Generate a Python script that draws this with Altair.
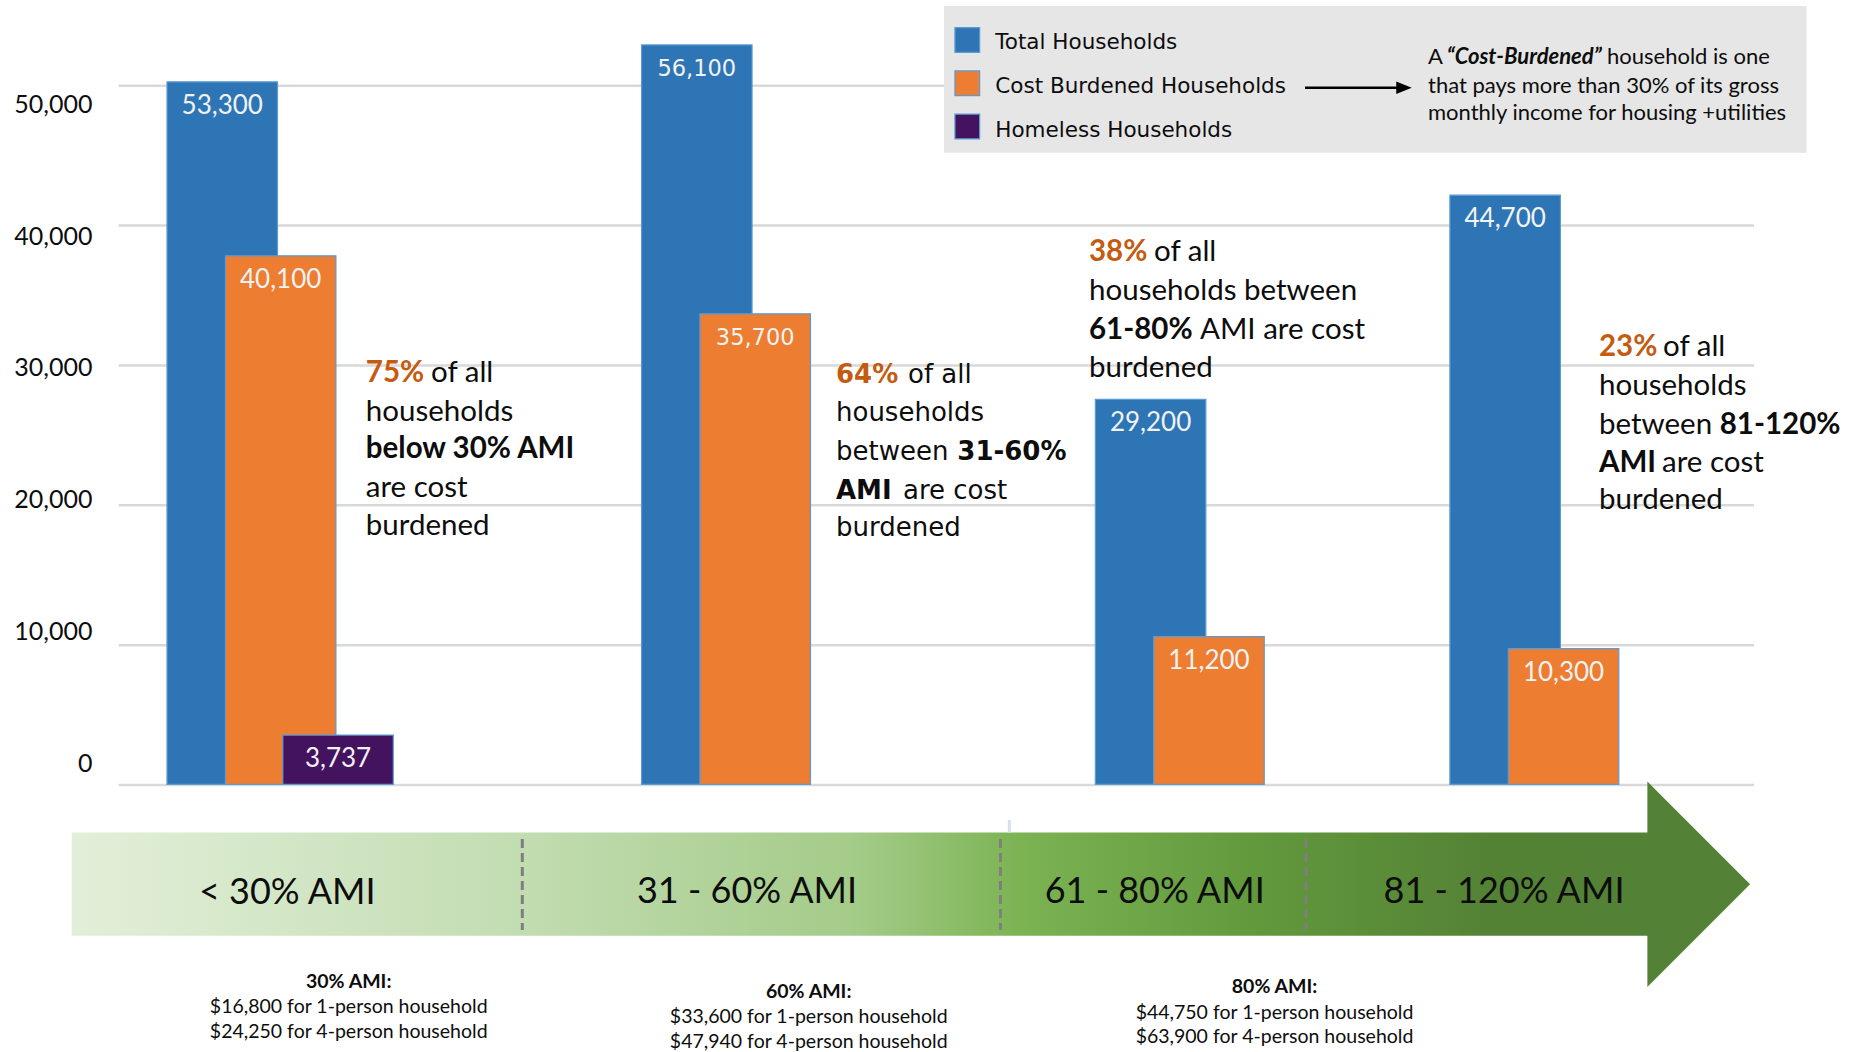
import altair as alt
import pandas as pd

# ---------------- data ----------------
groups = ["< 30% AMI", "31 - 60% AMI", "61 - 80% AMI", "81 - 120% AMI"]
series = ["Total Households", "Cost Burdened Households", "Homeless Households"]
total_households = [53300, 56100, 29200, 44700]
cost_burdened = [40100, 35700, 11200, 10300]
homeless = [3737]  # reported only for the < 30% AMI group
y_ticks = [0, 10000, 20000, 30000, 40000, 50000]
pct_burdened = ["75%", "64%", "38%", "23%"]
ami_levels = ["30% AMI:", "60% AMI:", "80% AMI:"]
one_person = ["$16,800", "$33,600", "$44,750"]
four_person = ["$24,250", "$47,940", "$63,900"]
colors = ["#2E75B6", "#ED7D31", "#44135F"]

rows = []
for gi, g in enumerate(groups):
    rows.append({"group": g, "gi": gi, "series": series[0], "value": total_households[gi]})
    rows.append({"group": g, "gi": gi, "series": series[1], "value": cost_burdened[gi]})
    if gi < len(homeless):
        rows.append({"group": g, "gi": gi, "series": series[2], "value": homeless[gi]})
df = pd.DataFrame(rows)
grid_df = pd.DataFrame({"v": y_ticks})
legend_df = pd.DataFrame({"series": series})
blank = pd.DataFrame({"k": [0]})

# ---------------- layout ----------------
W, H = 1853, 1052
CAL = "Lato"
CG = "DejaVu Sans"
ORANGE_TXT = "#C55A11"
BLACK = "#0D0D0D"

blue_centers = [216.7, 696.8, 1150.6, 1509.3]
OFF_ORANGE = 58.4
OFF_PURPLE = 115.8
BAR_W = 110.5

# bar value scale: zero at y=784.3, 13.18 px per 1000
bar_dom = [-20311, 59507]
# gridline scale: zero at y=785, 13.986 px per 1000
grid_dom = [-19091, 56128]

xs = alt.X("gi:Q", scale=alt.Scale(domain=[0, 1, 2, 3], range=blue_centers, nice=False, zero=False), axis=None)
ysc = alt.Scale(domain=bar_dom, nice=False, zero=False)
color = alt.Color("series:N", scale=alt.Scale(domain=series, range=colors), legend=None)


def txt(text, x, y, size, font=CAL, weight="normal", color=BLACK, align="left", style="normal"):
    return alt.Chart(blank).mark_text(
        text=text, font=font, fontSize=size, fontWeight=weight, fontStyle=style,
        color=color, align=align, baseline="middle"
    ).encode(x=alt.value(x), y=alt.value(y))


layers = []

# gridlines
layers.append(
    alt.Chart(grid_df).mark_rule(color="#D9D9D9", strokeWidth=2.5).encode(
        y=alt.Y("v:Q", scale=alt.Scale(domain=grid_dom, nice=False, zero=False), axis=None),
        x=alt.value(118.6), x2=alt.value(1754)
    )
)

# legend box
layers.append(
    alt.Chart(blank).mark_rect(color="#E6E6E6").encode(
        x=alt.value(944), x2=alt.value(1806.6), y=alt.value(6), y2=alt.value(152.7)
    )
)

y_axis = alt.Axis(values=y_ticks, format=",d", grid=False, domain=False, ticks=False,
                  labelFont=CAL, labelFontSize=25, labelColor=BLACK, labelPadding=0,
                  offset=-92, labelOffset=-21, title=None)


def bars(s_idx, xoff, axis=None):
    return alt.Chart(df).transform_filter(alt.datum.series == series[s_idx]).mark_bar(
        width=BAR_W, xOffset=xoff, stroke="#5B9BD5", strokeWidth=1.2, opacity=1
    ).encode(
        x=xs,
        y=alt.Y("value:Q", scale=ysc, axis=axis),
        y2=alt.datum(0),
        color=color,
    )


layers.append(bars(0, 0, y_axis))
layers.append(bars(1, OFF_ORANGE))
layers.append(bars(2, OFF_PURPLE))


def labels(s_idx, xoff, wide):
    cond = (alt.datum.series == series[s_idx]) & ((alt.datum.gi == 1) if wide else (alt.datum.gi != 1))
    return alt.Chart(df).transform_filter(cond).mark_text(
        font=CG if wide else CAL, fontSize=22.5 if wide else 26, color="#F2F2F2",
        align="center", baseline="middle", xOffset=xoff, dy=24
    ).encode(
        x=xs,
        y=alt.Y("value:Q", scale=ysc, axis=None),
        text=alt.Text("value:Q", format=","),
    )


for s_idx, off in [(0, 0), (1, OFF_ORANGE), (2, OFF_PURPLE)]:
    layers.append(labels(s_idx, off, False))
    if s_idx < 2:
        layers.append(labels(s_idx, off, True))

# ---------------- annotations ----------------
FS = 29.5
# group 1
x0 = 365.8
layers += [
    txt(pct_burdened[0], x0, 372.7, FS, weight="bold", color=ORANGE_TXT),
    txt("of all", 431, 372.7, FS),
    txt("households", x0, 411.7, FS),
    txt("below 30% AMI", x0, 449, FS, weight="bold"),
    txt("are cost", x0, 488.3, FS),
    txt("burdened", x0, 525.7, FS),
]
# group 2 (wide font)
x0 = 836
FS2 = 26
layers += [
    txt(pct_burdened[1], x0, 375, FS2, font=CG, weight="bold", color=ORANGE_TXT),
    txt("of all", 908, 375, FS2, font=CG),
    txt("households", x0, 413, FS2, font=CG),
    txt("between", x0, 451.5, FS2, font=CG),
    txt("31-60%", 957.3, 451.5, FS2, font=CG, weight="bold"),
    txt("AMI", x0, 490.8, FS2, font=CG, weight="bold"),
    txt("are cost", 903, 490.8, FS2, font=CG),
    txt("burdened", x0, 528, FS2, font=CG),
]
# group 3
x0 = 1089
layers += [
    txt(pct_burdened[2], x0, 251.6, FS, weight="bold", color=ORANGE_TXT),
    txt("of all", 1154, 251.6, FS),
    txt("households between", x0, 291, FS),
    txt("61-80%", x0, 329.5, FS, weight="bold"),
    txt("AMI are cost", 1200, 329.5, FS),
    txt("burdened", x0, 367.7, FS),
]
# group 4
x0 = 1599
layers += [
    txt(pct_burdened[3], x0, 347, FS, weight="bold", color=ORANGE_TXT),
    txt("of all", 1663, 347, FS),
    txt("households", x0, 386.3, FS),
    txt("between", x0, 424.5, FS),
    txt("81-120%", 1719.7, 424.5, FS, weight="bold"),
    txt("AMI", x0, 463, FS, weight="bold"),
    txt("are cost", 1662, 463, FS),
    txt("burdened", x0, 500.3, FS),
]

# ---------------- legend ----------------
layers.append(
    alt.Chart(legend_df).mark_square(size=610, filled=True, opacity=1, stroke="#5B9BD5", strokeWidth=1.2).encode(
        x=alt.value(967.3),
        y=alt.Y("series:N", scale=alt.Scale(domain=series, range=[40, 126.5], padding=0), axis=None),
        color=color,
    )
)
layers.append(
    alt.Chart(legend_df).mark_text(font=CG, fontSize=21.5, align="left", baseline="middle", color=BLACK).encode(
        x=alt.value(995.3),
        y=alt.Y("series:N", scale=alt.Scale(domain=series, range=[42.7, 130.7], padding=0), axis=None),
        text="series:N",
    )
)
# arrow in legend
layers.append(
    alt.Chart(blank).mark_rule(color="#000000", strokeWidth=2.5).encode(
        x=alt.value(1305), x2=alt.value(1400), y=alt.value(87.7)
    )
)
layers.append(
    alt.Chart(blank).mark_point(shape="M-1,-0.8L1,0L-1,0.8Z", filled=True, opacity=1, size=240,
                                color="#000000", strokeWidth=0).encode(
        x=alt.value(1404), y=alt.value(87.7)
    )
)
DEF = 22
layers += [
    txt("A", 1428, 57.3, DEF),
    txt("\u201cCost-Burdened\u201d", 1446.7, 57.3, DEF, weight="bold", style="italic"),
    txt("household is one", 1607, 57.3, DEF),
    txt("that pays more than 30% of its gross", 1428, 86, DEF),
    txt("monthly income for housing +utilities", 1428, 113.3, DEF),
]

# ---------------- bottom arrow band ----------------
grad = alt.Gradient(
    gradient="linear",
    stops=[
        alt.GradientStop(color="#E2EFD9", offset=0),
        alt.GradientStop(color="#C3DDB2", offset=0.28),
        alt.GradientStop(color="#A3CB88", offset=0.5),
        alt.GradientStop(color="#7CB353", offset=0.6),
        alt.GradientStop(color="#62993D", offset=0.75),
        alt.GradientStop(color="#548235", offset=0.9),
        alt.GradientStop(color="#538135", offset=1),
    ],
    x1=0, x2=1, y1=0, y2=0,
)
layers.append(
    alt.Chart(blank).mark_rect(color=grad).encode(
        x=alt.value(71.7), x2=alt.value(1648), y=alt.value(832.5), y2=alt.value(935.7)
    )
)
layers.append(
    alt.Chart(blank).mark_point(shape="M-1,-2L1,0L-1,2Z", filled=True, opacity=1, size=10547,
                                color="#538135", strokeWidth=0).encode(
        x=alt.value(1698.7), y=alt.value(884.2)
    )
)
for sx in [522.3, 1000.5, 1306]:
    layers.append(
        alt.Chart(blank).mark_rule(color="#7F7F7F", strokeWidth=3, strokeDash=[9, 5]).encode(
            x=alt.value(sx), y=alt.value(839), y2=alt.value(930)
        )
    )
layers.append(
    alt.Chart(blank).mark_rule(color="#D6E0F0", strokeWidth=3).encode(
        x=alt.value(1009.3), y=alt.value(820), y2=alt.value(832.5)
    )
)
band_centers = [287.3, 747, 1154.7, 1504]
band_y = [893, 891.5, 891.7, 891.5]
for i, g in enumerate(groups):
    layers.append(txt(g, band_centers[i], band_y[i], 36, align="center"))

note_x = [348.7, 808.7, 1274.5]
note_y = [982, 991.7, 987.3]
for i in range(3):
    layers += [
        txt(ami_levels[i], note_x[i], note_y[i], 19.5, weight="bold", align="center"),
        txt(f"{one_person[i]} for 1-person household", note_x[i], note_y[i] + 25.3, 19.5, align="center"),
        txt(f"{four_person[i]} for 4-person household", note_x[i], note_y[i] + 50, 19.5, align="center"),
    ]

chart = alt.layer(*layers).resolve_scale(y="independent").properties(
    width=W, height=H, autosize=alt.AutoSizeParams(type="none"), padding=0, background="white"
).configure_view(stroke=None)

chart.save("out.html", embed_options={"renderer": "svg", "actions": False})
